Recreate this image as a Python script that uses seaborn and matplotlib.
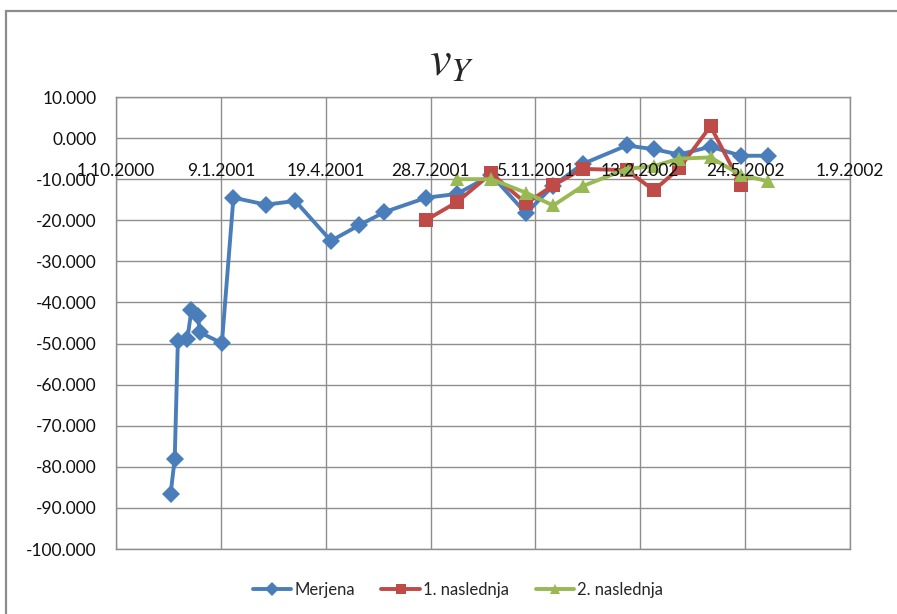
import matplotlib
matplotlib.use("Agg")
import matplotlib.pyplot as plt
import matplotlib.dates as mdates
from matplotlib.patches import Rectangle
from matplotlib.lines import Line2D
import seaborn as sns
import pandas as pd

# Measured series
dates_merjena = ["22.11.2000", "26.11.2000", "29.11.2000", "8.12.2000", "12.12.2000",
                 "18.12.2000", "20.12.2000", "10.1.2001", "21.1.2001", "21.2.2001",
                 "21.3.2001", "24.4.2001", "21.5.2001", "14.6.2001", "24.7.2001",
                 "22.8.2001", "24.9.2001", "27.10.2001", "22.11.2001", "20.12.2001",
                 "31.1.2002", "26.2.2002", "22.3.2002", "21.4.2002", "20.5.2002",
                 "15.6.2002"]
merjena = [-86.7, -78.1, -49.4, -48.9, -41.8, -43.3, -47.3, -49.9, -14.5, -16.2,
           -15.3, -25.0, -21.2, -18.0, -14.5, -13.6, -9.0, -18.3, -11.6, -6.3,
           -1.8, -2.7, -4.0, -2.1, -4.3, -4.3]

# First successive prediction
dates_nasl1 = ["24.7.2001", "22.8.2001", "24.9.2001", "27.10.2001", "22.11.2001",
               "20.12.2001", "31.1.2002", "26.2.2002", "22.3.2002", "21.4.2002",
               "20.5.2002"]
nasl1 = [-19.9, -15.6, -8.6, -15.9, -11.5, -7.5, -7.8, -12.7, -7.4, 2.9, -11.3]

# Second successive prediction
dates_nasl2 = ["22.8.2001", "24.9.2001", "27.10.2001", "22.11.2001", "20.12.2001",
               "31.1.2002", "26.2.2002", "22.3.2002", "21.4.2002", "20.5.2002",
               "15.6.2002"]
nasl2 = [-10.0, -10.0, -13.3, -16.4, -11.7, -7.5, -6.8, -5.0, -4.7, -9.0, -10.5]

series_names = ["Merjena", "1. naslednja", "2. naslednja"]
x_tick_labels = ["1.10.2000", "9.1.2001", "19.4.2001", "28.7.2001", "5.11.2001",
                 "13.2.2002", "24.5.2002", "1.9.2002"]
y_ticks = list(range(-100, 11, 10))

colors = ["#4A7EBB", "#BE4B48", "#98B954"]
markers = ["D", "s", "^"]
msizes = [9, 10, 10]

def to_dt(lst):
    return pd.to_datetime(lst, format="%d.%m.%Y")

frames = []
for name, d, v in [(series_names[0], dates_merjena, merjena),
                   (series_names[1], dates_nasl1, nasl1),
                   (series_names[2], dates_nasl2, nasl2)]:
    frames.append(pd.DataFrame({"datum": to_dt(d), "v": v, "serija": name}))
df = pd.concat(frames, ignore_index=True)

sns.set_theme(style="white")
plt.rcParams["font.family"] = ["Lato", "DejaVu Sans"]
plt.rcParams["mathtext.fontset"] = "stix"

fig = plt.figure(figsize=(8.97, 6.14), dpi=100)
ax = fig.add_axes([116 / 897, 1 - 549 / 614, (850 - 116) / 897, (549 - 97) / 614])

# outer chart frame
fig.patches.append(Rectangle((6 / 897, -0.1), 1.2, 1 - 11 / 614 + 0.1,
                             transform=fig.transFigure, fill=False,
                             edgecolor="#8C8C8C", linewidth=1.6, zorder=0))

grid_c = "#8E8E8E"
for i, name in enumerate(series_names):
    sub = df[df["serija"] == name]
    sns.lineplot(data=sub, x="datum", y="v", ax=ax, color=colors[i],
                 marker=markers[i], markersize=msizes[i], markeredgewidth=0,
                 linewidth=2.8, sort=False, legend=False, zorder=3 + i)

x_ticks = to_dt(x_tick_labels)
ax.set_xlim(x_ticks[0], x_ticks[-1])
ax.set_ylim(-100, 10)
ax.set_xticks(x_ticks)
ax.set_xticklabels([])
ax.set_yticks(y_ticks)
ax.set_yticklabels([f"{t:.3f}" for t in y_ticks], fontsize=12.5, color="#111111")
ax.tick_params(axis="both", length=0, pad=14)
ax.set_xlabel("")
ax.set_ylabel("")
ax.grid(True, color=grid_c, linewidth=1.0)
ax.set_axisbelow(True)
for s in ax.spines.values():
    s.set_color(grid_c)
    s.set_linewidth(1.0)

# date labels sit inside the plot area, just above the -10 line
for t, lab in zip(x_ticks, x_tick_labels):
    ax.text(mdates.date2num(t), -8.1, lab, ha="center", va="center",
            fontsize=12.5, color="#111111", zorder=10, clip_on=False)

fig.text(452 / 897, 1 - 62 / 614, r"$v_Y$", fontsize=35, ha="center", va="center")

handles = [Line2D([0], [0], color=colors[i], marker=markers[i], markersize=7,
                  markeredgewidth=0, linewidth=2.8) for i in range(3)]
fig.legend(handles, series_names, loc="center", bbox_to_anchor=(458 / 897, 1 - 590 / 614),
           ncol=3, frameon=False, fontsize=12, handlelength=2.3, handletextpad=0.2,
           columnspacing=1.6)

fig.savefig("out.png", dpi=100)
